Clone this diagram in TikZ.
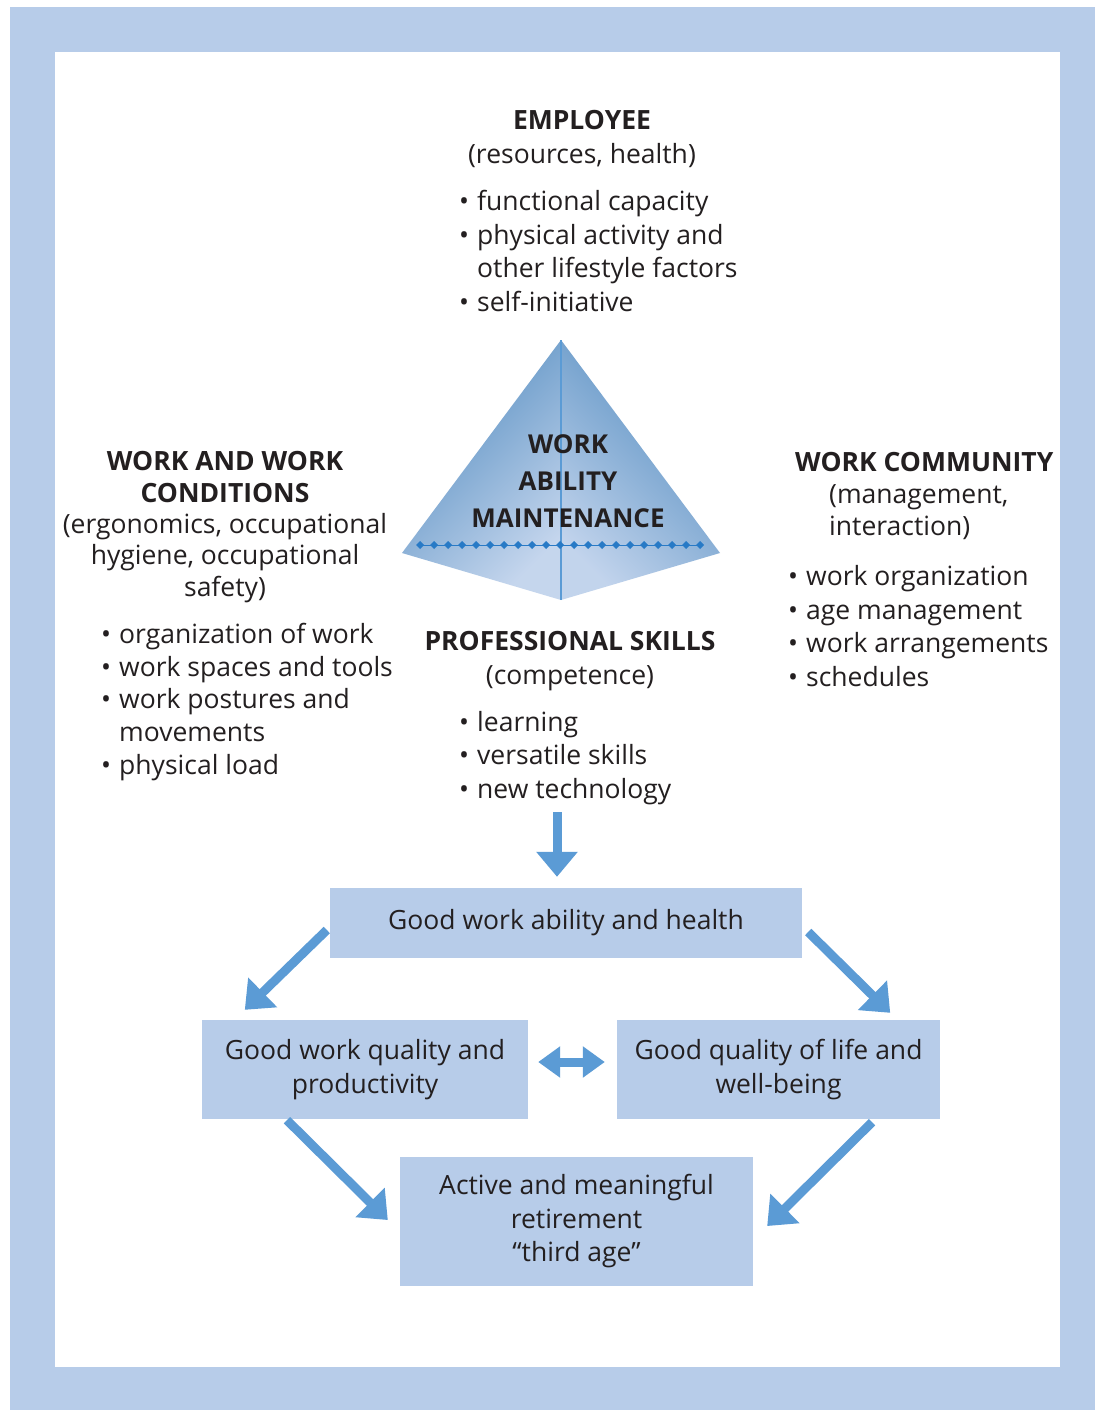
\documentclass[tikz,border=0pt]{standalone}
\usepackage{fontspec}
\setmainfont{Open Sans}
\usepackage{xcolor}
\usetikzlibrary{arrows.meta}

\definecolor{frameblue}{RGB}{183,204,233}
\definecolor{arrowblue}{RGB}{91,155,213}
\definecolor{ink}{RGB}{35,31,32}
\definecolor{dotblue}{RGB}{40,122,198}
\newcommand{\bul}{\makebox[18pt][l]{\textbullet}}
\newcommand{\ind}{\hspace*{18pt}}

\begin{document}
\begin{tikzpicture}[x=1pt,y=-1pt,text=ink,
  font=\fontsize{26.5}{33.5}\selectfont,
  every node/.style={inner sep=0pt},
  head/.style={align=center},
  list/.style={align=left,anchor=west},
  box/.style={fill=frameblue,align=center},
  arr/.style={draw=arrowblue,line width=9pt,-{Triangle[width=40pt,length=25pt]}},
  dbl/.style={draw=arrowblue,line width=9pt,{Triangle[width=30pt,length=22pt]}-{Triangle[width=30pt,length=22pt]}}]
\useasboundingbox (0,0) rectangle (1095,1410);
\fill[frameblue] (10,7) rectangle (1095,1410);
\fill[white] (55,52) rectangle (1060,1367);

% pyramid
\coordinate (apex) at (561,340);
\coordinate (pl) at (402,553);
\coordinate (pr) at (720,553);
\coordinate (pb) at (561,600);
\shade[top color=arrowblue!90!black,bottom color=frameblue!80!white,shading angle=45] (apex)--(pl)--(pb)--cycle;
\shade[top color=arrowblue!90!black,bottom color=frameblue!85!white,shading angle=-45] (apex)--(pr)--(pb)--cycle;
\draw[arrowblue,line width=1.5pt] (apex)--(pb);
\draw[dotblue,line width=0.6pt] (420,545)--(700,545);
\foreach \i in {0,...,20}
  \fill[dotblue] (420+14*\i,545) +(0,-4)--+(4,0)--+(0,4)--+(-4,0)--cycle;
\node[head,font=\fontsize{26}{37}\selectfont\bfseries] (wam) at (568,481) {WORK\\ABILITY\\MAINTENANCE};

% four corners of work ability
\node[head] (emp) at (582,139) {{\bfseries EMPLOYEE}\\(resources, health)};
\node[list] (empl) at (459,251) {\bul functional capacity\\\bul physical activity and\\\ind other lifestyle factors\\\bul self-initiative};

\node[head,font=\fontsize{26.5}{31.3}\selectfont] (wwc) at (225,527) {{\bfseries WORK AND WORK}\\{\bfseries CONDITIONS}\\(ergonomics, occupational\\hygiene, occupational\\safety)};
\node[list,font=\fontsize{26.5}{32.8}\selectfont] (wwcl) at (101,702) {\bul organization of work\\\bul work spaces and tools\\\bul work postures and\\\ind movements\\\bul physical load};

\node[list,font=\fontsize{26.5}{32}\selectfont] (wc) at (795,496) {{\bfseries WORK COMMUNITY}\\\hspace*{34pt}(management,\\\hspace*{34pt}interaction)};
\node[list] (wcl) at (788,626) {\bul work organization\\\bul age management\\\bul work arrangements\\\bul schedules};

\node[head] (ps) at (570,661) {{\bfseries PROFESSIONAL SKILLS}\\(competence)};
\node[list] (psl) at (459,758) {\bul learning\\\bul versatile skills\\\bul new technology};

% outcomes
\node[box,minimum width=472pt,minimum height=70pt] (good) at (566,923) {Good work ability and health};
\node[box,minimum width=326pt,minimum height=99pt] (quality) at (365,1069.5) {Good work quality and\\productivity};
\node[box,minimum width=323pt,minimum height=99pt] (life) at (778.5,1069.5) {Good quality of life and\\well-being};
\node[box,minimum width=353pt,minimum height=129pt] (retire) at (576.5,1221.5) {Active and meaningful\\retirement\\“third age”};

\coordinate (down) at (557,812);
\draw[arr] (down) -- ([xshift=-9pt,yshift=11pt]good.north);
\draw[arr] ([xshift=-3pt,yshift=-7pt]good.west) -- ([xshift=43pt,yshift=10pt]quality.north west);
\draw[arr] ([xshift=6pt,yshift=-9pt]good.east) -- ([xshift=-50pt,yshift=7pt]life.north east);
\draw[dbl] ([xshift=10pt,yshift=7.5pt]quality.east) -- ([xshift=-12pt,yshift=7.5pt]life.west);
\draw[arr] ([xshift=-78pt,yshift=-1pt]quality.south) -- ([xshift=-12pt,yshift=1.5pt]retire.west);
\draw[arr] ([xshift=93.5pt,yshift=-3pt]life.south) -- ([xshift=14pt,yshift=-4.5pt]retire.east);
\end{tikzpicture}
\end{document}
